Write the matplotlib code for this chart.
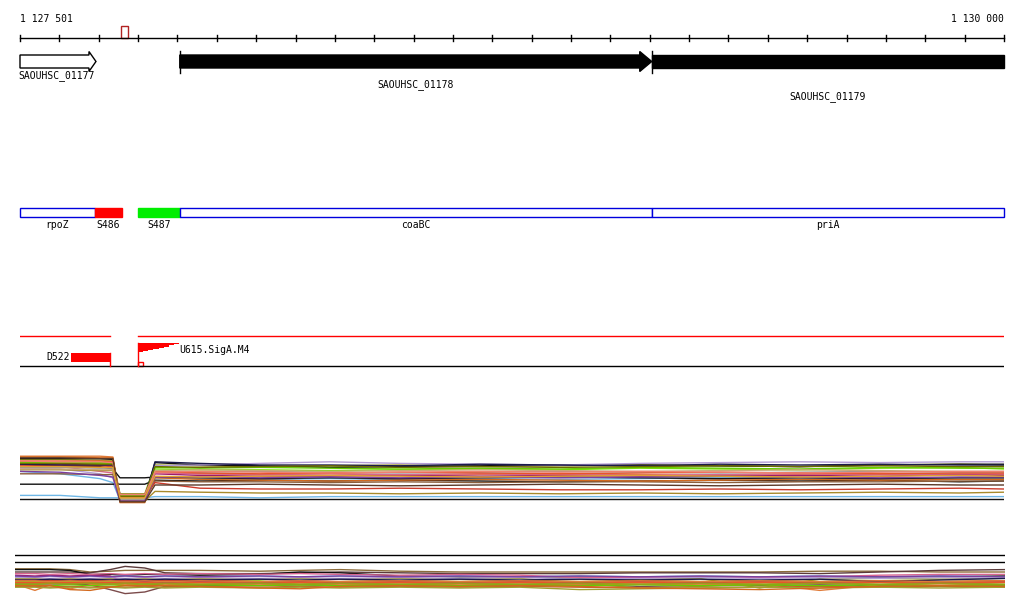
import matplotlib
matplotlib.use('Agg')
import matplotlib.pyplot as plt
from matplotlib.patches import Rectangle, Polygon

plt.rcParams['font.family'] = ['DejaVu Sans Mono']
FS = 7

# ==========================================
# data
# ==========================================
REGION_START = 1127501
REGION_END = 1130001
RULER_LABELS = ['1 127 501', '1 130 000']
MARKER = (1127757, 1127775)   # small red box on the ruler

# genes
GENE_NAMES = ['SAOUHSC_01177', 'SAOUHSC_01178', 'SAOUHSC_01179']
GENE_STARTS = [1127501, 1127907, 1129106]
GENE_ENDS = [1127694, 1129106, 1130001]
GENE_FILL = ['white', 'black', 'black']

# annotation track
ANNOT_NAMES = ['rpoZ', 'S486', 'S487', 'coaBC', 'priA']
ANNOT_STARTS = [1127501, 1127691, 1127801, 1127907, 1129106]
ANNOT_ENDS = [1127691, 1127760, 1127907, 1129106, 1130001]
ANNOT_FACE = ['white', '#FF0000', '#00EE00', 'white', 'white']

# features track
D522 = (1127631, 1127730)
U615_START = 1127801
U615_STEP_BP = 13
U615_STEPS = [9.0, 8.0, 7.0, 6.0, 4.8, 3.6, 2.4, 1.2]

# expression panel (tiling array profiles)
EXPR_POS = [1127501, 1127603, 1127704, 1127737, 1127755, 1127818, 1127844,
            1127958, 1128110, 1128288, 1128466, 1128669, 1128872, 1129076,
            1129279, 1129482, 1129685, 1129888, 1130000]
EXPR_COLORS = ['#E07B39', '#9C9A1C', '#80E010', '#9B1B6B', '#111111',
               '#6FB7E6', '#6FB7E6', '#111111', '#111111', '#111111',
               '#D8648F', '#B39DD6', '#8B5E3C', '#CC3A2A', '#A88A2A',
               '#D2691E', '#1B1B4B', '#999999', '#66CC00', '#E8552A',
               '#C8A878', '#6B6B00', '#7B3F9F', '#F08070', '#5B3A29', '#E0A030']
EXPR_VALUES = [
    [12.2, 12.2, 12.2, 12.0, 2.0, 2.0, 8.2, 7.8, 7.6, 7.8, 7.4, 7.6, 7.8, 7.6, 7.4, 7.6, 7.8, 7.6, 7.6],
    [11.4, 11.4, 11.2, 11.2, 2.8, 2.8, 10.0, 9.8, 9.6, 9.8, 10.0, 9.6, 9.8, 10.0, 9.8, 9.6, 10.0, 10.2, 10.0],
    [10.6, 10.6, 10.4, 10.4, 2.2, 2.2, 9.0, 8.8, 8.8, 8.6, 8.8, 9.0, 8.8, 9.2, 9.0, 8.8, 9.2, 9.4, 9.0],
    [10.2, 10.2, 10.0, 10.0, 2.6, 2.6, 7.8, 7.4, 7.2, 7.2, 7.4, 7.2, 7.4, 7.2, 7.2, 7.4, 7.2, 7.6, 7.4],
    [11.6, 11.6, 11.6, 11.4, 1.6, 1.6, 10.6, 10.0, 9.8, 9.4, 9.6, 9.8, 10.0, 10.0, 9.8, 9.6, 10.0, 10.2, 10.2],
    [8.4, 7.8, 6.6, 5.6, 1.2, 1.2, 6.8, 6.6, 6.4, 6.6, 6.4, 6.6, 6.4, 6.6, 6.8, 6.6, 6.4, 6.6, 6.6],
    [2.4, 2.4, 1.8, 1.8, 1.8, 1.8, 2.1, 2.1, 1.8, 2.1, 2.1, 2.1, 2.1, 2.1, 2.1, 2.1, 2.1, 2.1, 2.1],
    [1.5, 1.5, 1.5, 1.5, 1.5, 1.5, 1.5, 1.5, 1.5, 1.5, 1.5, 1.5, 1.5, 1.5, 1.5, 1.5, 1.5, 1.5, 1.5],
    [5.2, 5.2, 5.2, 5.2, 5.2, 5.2, 6.2, 6.0, 6.2, 6.0, 6.2, 6.0, 5.8, 6.0, 6.2, 6.0, 6.2, 5.8, 6.0],
    [9.6, 9.6, 9.6, 9.0, 6.8, 6.8, 7.0, 6.8, 6.6, 6.8, 6.6, 6.8, 7.0, 6.8, 6.6, 6.8, 6.6, 6.8, 6.8],
    [9.8, 9.6, 8.4, 8.0, 2.4, 2.4, 8.0, 7.8, 7.6, 7.8, 7.6, 7.8, 7.6, 7.4, 7.6, 7.8, 7.6, 7.8, 7.8],
    [9.2, 9.0, 7.8, 6.8, 1.4, 1.4, 9.8, 10.0, 10.4, 10.8, 10.4, 10.2, 10.0, 10.4, 10.6, 10.8, 10.6, 10.8, 10.8],
    [7.8, 7.8, 7.6, 7.6, 1.2, 1.2, 6.0, 5.8, 5.8, 5.6, 5.8, 5.6, 5.8, 5.8, 5.6, 5.8, 5.8, 6.0, 6.0],
    [10.0, 9.8, 9.8, 9.6, 2.0, 2.0, 5.6, 4.2, 4.0, 4.0, 4.2, 4.0, 3.8, 3.8, 4.0, 3.8, 4.0, 4.2, 4.0],
    [8.8, 8.8, 8.6, 8.6, 1.0, 1.0, 3.4, 3.2, 3.0, 3.0, 2.8, 3.0, 2.8, 3.0, 2.8, 3.0, 3.2, 3.0, 3.2],
    [12.0, 12.0, 11.8, 11.8, 0.6, 0.6, 6.8, 6.4, 6.2, 6.0, 6.2, 6.4, 6.2, 6.0, 6.2, 6.4, 6.2, 6.4, 6.4],
    [10.2, 10.0, 10.0, 10.0, 1.8, 1.8, 10.8, 10.4, 10.0, 10.0, 9.8, 10.2, 10.0, 9.8, 10.2, 10.0, 10.2, 10.0, 10.0],
    [9.4, 9.4, 9.2, 9.2, 1.4, 1.4, 8.4, 8.2, 8.4, 8.2, 8.0, 8.2, 8.4, 8.2, 8.0, 8.2, 8.4, 8.2, 8.2],
    [10.8, 10.8, 10.6, 10.6, 2.4, 2.4, 9.4, 9.2, 9.4, 9.2, 9.0, 9.2, 9.0, 9.4, 9.2, 9.0, 9.4, 9.2, 9.2],
    [11.0, 11.0, 11.0, 10.8, 1.8, 1.8, 8.4, 8.0, 7.8, 8.0, 8.2, 8.0, 7.8, 8.0, 8.2, 8.0, 7.8, 8.0, 8.0],
    [9.0, 9.0, 8.8, 8.8, 1.6, 1.6, 8.6, 8.8, 8.6, 8.4, 8.6, 8.8, 8.6, 8.4, 8.6, 8.8, 8.6, 8.4, 8.4],
    [10.4, 10.4, 10.2, 10.2, 2.2, 2.2, 9.6, 9.4, 9.6, 9.8, 9.4, 9.6, 9.4, 9.6, 9.8, 9.6, 9.8, 9.6, 9.6],
    [8.4, 8.2, 7.4, 7.0, 1.0, 1.0, 7.0, 7.0, 6.8, 7.0, 6.8, 7.0, 6.8, 7.0, 7.2, 7.0, 6.8, 7.0, 7.0],
    [11.0, 10.8, 10.8, 10.6, 2.6, 2.6, 8.2, 8.4, 8.2, 8.0, 8.2, 8.4, 8.2, 8.4, 8.2, 8.0, 8.2, 8.4, 8.4],
    [11.8, 11.8, 11.6, 11.6, 0.8, 0.8, 5.0, 5.0, 5.2, 5.0, 4.8, 5.0, 5.2, 5.0, 4.8, 5.0, 5.2, 5.0, 5.0],
    [9.6, 9.6, 9.4, 9.4, 1.8, 1.8, 7.2, 7.0, 7.2, 7.4, 7.2, 7.0, 7.2, 7.4, 7.2, 7.0, 7.2, 7.4, 7.2],
]

# bottom panel (second condition set)
LOW_POS = [1127488, 1127539, 1127577, 1127628, 1127679, 1127730, 1127768, 1127818,
           1127869, 1127958, 1128110, 1128212, 1128314, 1128466, 1128618, 1128771,
           1128923, 1129076, 1129228, 1129380, 1129533, 1129685, 1129837, 1130002]
LOW_THRESHOLDS = [11.25, 9.5]
LOW_COLORS = ['#8B6B3A', '#5B3A3A', '#7B4B4B', '#111111', '#E07B39', '#C0622B',
              '#9C9A1C', '#80E010', '#6FB7E6', '#9B1B6B', '#D8648F', '#B39DD6',
              '#CC3A2A', '#A88A2A', '#66CC00', '#A0A030', '#1B1B4B', '#E8552A',
              '#7B3F9F', '#D2691E', '#E07B39', '#9C9A1C']
LOW_VALUES = [
    [7.8, 7.8, 7.8, 7.6, 7.0, 7.2, 7.4, 7.4, 7.4, 7.4, 7.2, 7.4, 7.6, 7.2, 7.0, 7.0, 7.0, 7.0, 7.0, 7.0, 7.2, 7.2, 7.0, 7.0],
    [7.0, 7.0, 7.0, 7.0, 6.8, 7.6, 8.4, 8.0, 6.8, 6.6, 6.6, 6.8, 7.0, 6.8, 6.6, 6.6, 6.6, 6.8, 6.8, 6.8, 6.6, 7.0, 7.4, 7.6],
    [4.0, 4.0, 4.0, 4.0, 3.8, 2.6, 1.6, 2.0, 3.4, 3.6, 3.6, 3.8, 3.6, 3.8, 3.6, 3.6, 3.8, 3.4, 3.6, 3.6, 3.8, 3.6, 3.4, 3.6],
    [7.6, 7.6, 7.6, 7.4, 6.4, 6.4, 6.2, 6.4, 6.4, 6.2, 6.4, 7.0, 6.8, 6.0, 5.8, 5.8, 5.8, 5.8, 5.8, 5.8, 5.8, 5.8, 5.8, 6.0],
    [4.0, 2.4, 3.8, 2.8, 3.8, 4.0, 3.8, 4.0, 3.8, 4.0, 3.8, 4.0, 3.8, 4.0, 3.8, 4.0, 3.8, 4.0, 3.8, 4.0, 2.4, 3.8, 4.0, 3.8],
    [3.4, 3.4, 3.2, 3.4, 3.2, 3.4, 3.2, 3.4, 3.2, 3.4, 3.2, 3.4, 3.2, 3.4, 3.2, 3.4, 3.2, 3.0, 3.0, 3.2, 3.4, 3.2, 3.4, 3.2],
    [5.4, 5.4, 5.2, 5.4, 5.2, 5.4, 5.2, 5.4, 5.2, 5.4, 5.2, 5.4, 5.2, 5.4, 5.2, 5.4, 4.2, 5.2, 5.4, 3.0, 5.2, 5.4, 5.2, 5.4],
    [4.6, 4.6, 4.8, 4.6, 4.8, 4.6, 4.8, 4.6, 4.8, 4.6, 4.8, 3.8, 4.6, 4.8, 4.6, 4.8, 4.6, 4.8, 4.6, 4.8, 4.6, 4.8, 4.6, 4.8],
    [5.8, 5.8, 6.0, 5.8, 6.0, 5.8, 6.0, 5.8, 6.0, 5.8, 6.0, 5.8, 6.0, 5.8, 6.0, 5.8, 6.0, 5.8, 6.0, 5.8, 6.0, 5.8, 6.0, 5.8],
    [6.2, 6.0, 6.2, 6.0, 6.2, 6.0, 4.4, 4.6, 4.4, 4.6, 4.4, 4.6, 4.4, 4.6, 4.4, 4.6, 4.4, 4.6, 4.4, 4.6, 4.4, 4.6, 4.4, 4.6],
    [6.6, 6.6, 6.4, 6.6, 6.4, 6.6, 6.4, 6.6, 6.4, 6.6, 6.4, 6.6, 6.4, 6.2, 6.4, 6.2, 5.6, 5.6, 5.8, 5.6, 5.8, 6.2, 6.4, 6.4],
    [5.6, 5.6, 5.4, 5.6, 5.4, 5.6, 5.4, 5.6, 5.4, 5.6, 5.4, 5.6, 5.4, 5.6, 5.4, 5.6, 5.2, 5.4, 5.6, 5.4, 5.6, 5.4, 5.6, 5.4],
    [5.0, 5.0, 4.8, 5.0, 4.8, 5.0, 4.8, 5.0, 4.8, 5.0, 4.6, 4.8, 4.6, 4.8, 4.6, 4.8, 4.6, 4.8, 4.6, 4.8, 4.6, 4.8, 4.6, 4.8],
    [4.2, 4.2, 4.4, 4.2, 4.4, 4.2, 4.4, 4.2, 3.6, 3.8, 4.2, 3.8, 4.2, 3.8, 4.2, 3.8, 4.2, 3.0, 3.4, 3.8, 4.2, 3.8, 4.2, 3.8],
    [3.8, 3.8, 3.6, 3.8, 3.6, 3.8, 3.6, 3.8, 3.6, 3.8, 3.6, 3.8, 3.6, 3.8, 3.6, 3.8, 3.6, 3.8, 3.6, 3.8, 3.6, 3.8, 3.6, 3.8],
    [3.2, 3.2, 3.0, 3.2, 3.0, 3.2, 3.0, 3.2, 3.0, 3.2, 3.0, 3.2, 3.0, 3.2, 3.0, 3.2, 2.6, 2.8, 3.0, 3.2, 3.0, 3.2, 3.0, 3.2],
    [5.0, 5.0, 5.2, 5.0, 5.2, 5.0, 5.2, 5.0, 5.2, 5.0, 5.2, 5.0, 5.2, 5.0, 5.2, 5.0, 5.2, 5.0, 5.2, 5.0, 5.2, 4.6, 5.0, 5.4],
    [4.4, 4.4, 4.2, 4.4, 4.2, 4.4, 4.2, 4.4, 4.2, 4.4, 4.2, 4.4, 4.2, 4.4, 4.2, 4.4, 4.2, 4.4, 4.2, 4.4, 4.2, 4.4, 4.2, 4.4],
    [6.0, 5.8, 6.0, 5.8, 6.0, 5.8, 6.0, 5.8, 6.0, 5.8, 6.0, 5.8, 6.0, 5.8, 6.0, 5.8, 6.0, 5.8, 6.0, 5.8, 6.0, 5.8, 6.0, 5.8],
    [3.6, 3.6, 3.6, 2.6, 2.4, 3.2, 3.6, 3.6, 3.6, 3.4, 3.0, 2.8, 3.4, 3.6, 3.4, 3.6, 3.4, 3.0, 2.8, 2.6, 3.0, 3.4, 3.6, 3.4],
    [4.8, 4.8, 4.6, 4.8, 4.6, 4.8, 4.6, 4.8, 4.6, 4.8, 4.6, 4.8, 4.6, 4.8, 4.6, 4.8, 4.6, 4.8, 4.6, 4.8, 4.6, 4.8, 4.6, 4.8],
    [4.0, 4.0, 4.2, 4.0, 4.2, 4.0, 4.2, 4.0, 4.2, 4.0, 4.2, 4.0, 4.2, 4.0, 4.2, 4.0, 4.2, 4.0, 4.2, 4.0, 4.2, 4.0, 4.2, 4.0],
]

# ==========================================
# layout (pixel rows of the tracks)
# ==========================================
W, H = 1024, 611
BP_PER_PX = (REGION_END - REGION_START) / 984.0

fig = plt.figure(figsize=(W / 100, H / 100), dpi=100)
ax = fig.add_axes([20 / W, 0, 984 / W, 1])
ax.set_xlim(REGION_START, REGION_END)
ax.set_ylim(H, 0)
ax.axis('off')

# --- ruler ---
ax.plot([REGION_START, REGION_END], [38, 38], color='black', lw=1, clip_on=False)
for t in range(REGION_START, REGION_END + 1, 100):
    ax.plot([t, t], [35, 41], color='black', lw=1, clip_on=False)
ax.text(REGION_START, 19, RULER_LABELS[0], fontsize=FS, ha='left', va='center')
ax.text(REGION_END, 19, RULER_LABELS[1], fontsize=FS, ha='right', va='center')
ax.add_patch(Rectangle((MARKER[0], 26), MARKER[1] - MARKER[0], 12,
                       facecolor='white', edgecolor='#B22222', lw=1))

# --- genes ---
for i, name in enumerate(GENE_NAMES):
    s, e = GENE_STARTS[i], GENE_ENDS[i]
    if i < 2:
        hs = e - (7 if i == 0 else 12) * BP_PER_PX
        pts = [(s, 55), (hs, 55), (hs, 51.5), (e, 61.5), (hs, 71.5), (hs, 68), (s, 68)]
    else:
        pts = [(s, 55), (e, 55), (e, 68), (s, 68)]
    ax.add_patch(Polygon(pts, closed=True, facecolor=GENE_FILL[i], edgecolor='black',
                         lw=1, clip_on=False))
    if i > 0:
        ax.plot([s, s], [51, 73], color='black', lw=1)
ax.text(GENE_STARTS[0] - 2 * BP_PER_PX, 76, GENE_NAMES[0], fontsize=FS, ha='left', va='center')
ax.text((GENE_STARTS[1] + GENE_ENDS[1]) / 2, 85, GENE_NAMES[1], fontsize=FS, ha='center', va='center')
ax.text((GENE_STARTS[2] + GENE_ENDS[2]) / 2, 97, GENE_NAMES[2], fontsize=FS, ha='center', va='center')

# --- annotation track ---
for i, name in enumerate(ANNOT_NAMES):
    s, e = ANNOT_STARTS[i], ANNOT_ENDS[i]
    ec = '#0000DD' if ANNOT_FACE[i] == 'white' else ANNOT_FACE[i]
    ax.add_patch(Rectangle((s, 208), e - s, 9, facecolor=ANNOT_FACE[i], edgecolor=ec,
                           lw=1, clip_on=False))
    ax.text((s + e) / 2, 224.5, name, fontsize=FS, ha='center', va='center')

# --- features track ---
ax.plot([REGION_START, D522[1]], [336, 336], color='red', lw=1)
ax.plot([U615_START, REGION_END], [336, 336], color='red', lw=1)
ax.plot([REGION_START, REGION_END], [366, 366], color='black', lw=1)
ax.add_patch(Rectangle((D522[0], 353), D522[1] - D522[0], 9, facecolor='red', edgecolor='none'))
ax.plot([D522[1], D522[1]], [353, 366], color='red', lw=1)
ax.text(D522[0] - 1 * BP_PER_PX, 357, 'D522', fontsize=FS, ha='right', va='center')

xs, ys = [U615_START], [343]
for k, hgt in enumerate(U615_STEPS):
    x0 = U615_START + k * U615_STEP_BP
    xs += [x0, x0 + U615_STEP_BP]
    ys += [343 + hgt, 343 + hgt]
xs += [U615_START + len(U615_STEPS) * U615_STEP_BP]
ys += [343]
ax.fill(xs, ys, color='red', lw=0)
ax.plot([U615_START, U615_START], [343, 366], color='red', lw=1)
ax.add_patch(Rectangle((U615_START, 362), 5 * BP_PER_PX, 4, facecolor='white',
                       edgecolor='red', lw=1))
ax.text(U615_START + 41 * BP_PER_PX, 350, 'U615.SigA.M4', fontsize=FS, ha='left', va='center')

# --- expression panel ---
ax_e = fig.add_axes([20 / W, (H - 510) / H, 984 / W, 60 / H])
ax_e.set_xlim(REGION_START, REGION_END)
ax_e.set_ylim(-1.25, 13.75)
ax_e.axis('off')
for col, vals in zip(EXPR_COLORS, EXPR_VALUES):
    ax_e.plot(EXPR_POS, vals, color=col, lw=1.0)

# --- bottom panel ---
x0 = REGION_START - 5 * BP_PER_PX
x1 = REGION_END + 1 * BP_PER_PX
ax_l = fig.add_axes([15 / W, (H - 600) / H, 990 / W, 50 / H])
ax_l.set_xlim(x0, x1)
ax_l.set_ylim(0, 12.5)
ax_l.axis('off')
for thr in LOW_THRESHOLDS:
    ax_l.plot([x0, x1], [thr, thr], color='black', lw=1)
for col, vals in zip(LOW_COLORS, LOW_VALUES):
    ax_l.plot(LOW_POS, vals, color=col, lw=1.0)

fig.savefig('out.png', dpi=100)
